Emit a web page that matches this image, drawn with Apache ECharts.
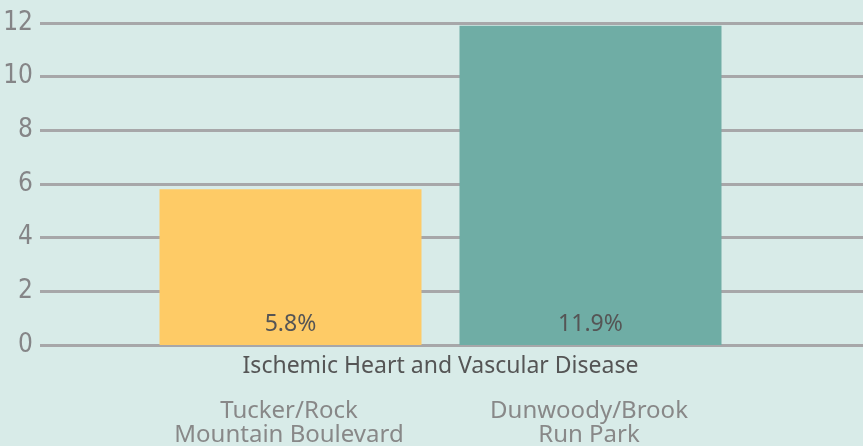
<!DOCTYPE html>
<html>
<head>
<meta charset="utf-8">
<script src="https://cdn.jsdelivr.net/npm/echarts@6/dist/echarts.min.js"></script>
<style>
  html, body { margin: 0; padding: 0; background: #d8ebe8; }
  #chart { width: 863px; height: 446px; }
</style>
</head>
<body>
<div id="chart"></div>
<script>
const categories = ['Ischemic Heart and Vascular Disease'];
const seriesNames = ['Tucker/Rock\nMountain Boulevard', 'Dunwoody/Brook\nRun Park'];
const tuckerValues = [5.8];
const dunwoodyValues = [11.9];
const yTicks = { min: 0, max: 12, interval: 2 };

const colors = ['#fecb66', '#6fada5'];
const bodyFont = '"Noto Sans", Lato, sans-serif';

const chart = echarts.init(document.getElementById('chart'));

const barLabel = {
  show: true,
  position: 'insideBottom',
  distance: 9,
  formatter: (p) => p.value.toFixed(1) + '%',
  color: '#555',
  fontSize: 23,
  fontFamily: bodyFont,
};

const option = {
  backgroundColor: '#d8ebe8',
  color: colors,
  animation: false,
  grid: [
    // background grid: gridlines run to the right edge
    { left: 40, right: 0, top: 23, bottom: 101 },
    // bars
    { left: 40, right: 22, top: 23, bottom: 101 },
  ],
  xAxis: [
    { gridIndex: 0, type: 'value', min: 0, max: 1, show: false },
    {
      gridIndex: 1,
      type: 'category',
      data: categories,
      axisLine: { show: false },
      axisTick: { show: false },
      axisLabel: { color: '#555', fontSize: 23, fontFamily: bodyFont, margin: 10 },
    },
  ],
  yAxis: [
    {
      gridIndex: 0,
      type: 'value',
      ...yTicks,
      axisLabel: { show: false },
      axisLine: { show: false },
      axisTick: { show: false },
      splitLine: { lineStyle: { color: '#a7a7a9', width: 3 } },
    },
    {
      gridIndex: 1,
      type: 'value',
      ...yTicks,
      axisLine: { show: false },
      axisTick: { show: false },
      splitLine: { show: false },
      axisLabel: {
        color: '#858587',
        fontSize: 26,
        fontFamily: '"Liberation Sans Narrow", "DejaVu Sans Condensed", sans-serif',
        margin: 7,
      },
    },
  ],
  legend: {
    left: 148,
    top: 394,
    itemWidth: 0,
    itemHeight: 0,
    itemGap: 33,
    icon: 'rect',
    selectedMode: false,
    formatter: (name) => name.split('\n').map((s) => '{a|' + s + '}').join('\n'),
    textStyle: {
      rich: {
        a: {
          width: 262,
          align: 'center',
          color: '#888',
          fontSize: 24,
          lineHeight: 24,
          fontFamily: bodyFont,
        },
      },
    },
  },
  series: [
    {
      name: seriesNames[0],
      type: 'bar',
      xAxisIndex: 1,
      yAxisIndex: 1,
      data: tuckerValues,
      barWidth: 262,
      barGap: '14.5%',
      label: barLabel,
    },
    {
      name: seriesNames[1],
      type: 'bar',
      xAxisIndex: 1,
      yAxisIndex: 1,
      data: dunwoodyValues,
      barWidth: 262,
      barGap: '14.5%',
      label: barLabel,
    },
  ],
};

chart.setOption(option);
</script>
</body>
</html>
